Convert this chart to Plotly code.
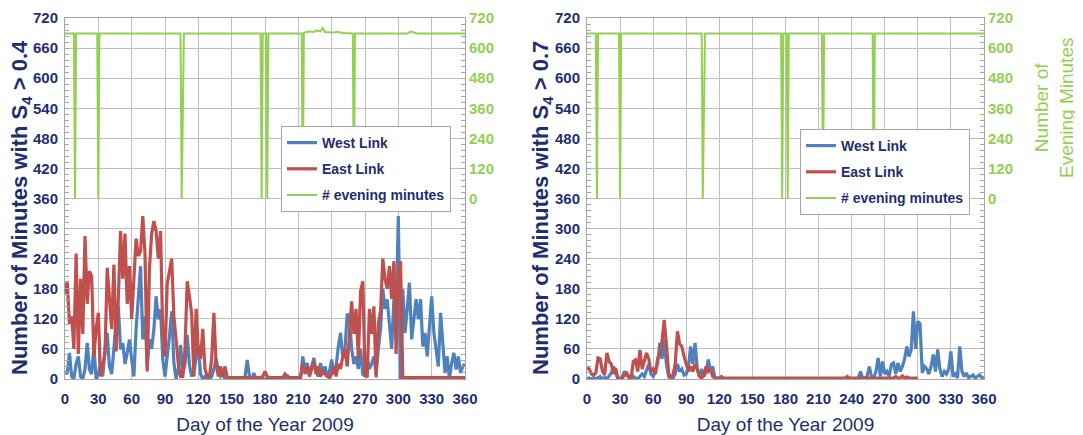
import plotly.graph_objects as go

# ---------------- data ----------------
days = list(range(0, 362, 2))  # sampled every 2 days, 0..360

west_04 = [15, 10, 52, 5, 0, 30, 45, 5, 0, 20, 72, 19, 10, 65, 0, 10, 32, 5, 60, 92,
           25, 10, 60, 119, 145, 59, 72, 30, 52, 79, 39, 5, 99, 160, 225, 79, 125, 25, 79, 60,
           99, 165, 119, 139, 39, 5, 39, 85, 135, 32, 0, 20, 68, 10, 30, 88, 28, 5, 15, 40,
           68, 10, 0, 5, 0, 0, 5, 20, 41, 15, 5, 10, 0, 0, 0, 0, 0, 0, 0, 0,
           0, 5, 38, 5, 0, 12, 0, 0, 0, 0, 0, 0, 0, 0, 0, 0, 0, 0, 0, 0,
           8, 0, 0, 0, 0, 0, 0, 45, 19, 32, 10, 25, 42, 15, 5, 32, 10, 25, 5, 15,
           39, 10, 25, 65, 92, 40, 60, 130, 125, 60, 30, 45, 20, 60, 10, 5, 40, 20, 30, 45,
           10, 60, 100, 180, 140, 159, 110, 60, 159, 120, 325, 0, 179, 92, 139, 192, 79, 125, 159, 119,
           159, 65, 92, 45, 105, 165, 92, 60, 25, 132, 60, 12, 45, 0, 32, 52, 19, 45, 12, 25,
           30]

east_04 = [170, 195, 110, 125, 60, 250, 50, 200, 90, 285, 150, 215, 205, 45, 100, 132, 5, 30, 50, 222,
           150, 100, 228, 55, 160, 295, 200, 290, 150, 225, 120, 200, 280, 245, 255, 325, 250, 15, 220, 290,
           315, 295, 240, 295, 90, 45, 190, 215, 240, 125, 80, 30, 5, 5, 60, 195, 165, 130, 5, 140,
           55, 40, 100, 20, 5, 5, 40, 132, 30, 5, 25, 5, 25, 3, 3, 3, 3, 3, 3, 3,
           3, 3, 3, 3, 3, 3, 3, 3, 3, 5, 15, 5, 3, 3, 3, 3, 3, 3, 3, 10,
           5, 3, 3, 3, 3, 3, 5, 30, 10, 25, 5, 20, 35, 10, 25, 5, 15, 10, 5, 3,
           10, 25, 5, 30, 20, 45, 60, 25, 100, 155, 90, 140, 40, 175, 195, 10, 3, 140, 90, 145,
           3, 110, 135, 240, 200, 180, 225, 160, 235, 50, 215, 235, 3, 3, 3, 3, 3, 3, 3, 3,
           3, 3, 3, 3, 3, 3, 3, 3, 3, 3, 3, 3, 3, 3, 3, 3, 3, 3, 3, 3,
           3]

west_07 = [0, 2, 0, 3, 0, 2, 5, 0, 3, 0, 5, 12, 25, 10, 0, 0, 5, 15, 8, 2,
           0, 5, 2, 0, 5, 10, 5, 20, 30, 10, 5, 15, 30, 72, 40, 79, 30, 5, 0, 2,
           10, 30, 15, 20, 8, 10, 25, 65, 30, 72, 20, 5, 20, 5, 15, 39, 15, 25, 2, 0,
           2, 5, 0, 0, 0, 0, 0, 0, 0, 0, 0, 0, 0, 0, 0, 0, 0, 0, 0, 0,
           0, 0, 0, 0, 0, 0, 0, 0, 0, 0, 0, 0, 0, 0, 0, 0, 0, 0, 0, 0,
           0, 0, 0, 0, 0, 0, 0, 0, 0, 0, 0, 0, 0, 0, 0, 0, 0, 0, 0, 0,
           0, 0, 0, 2, 15, 0, 3, 5, 25, 5, 2, 15, 42, 5, 35, 10, 15, 5, 29, 32,
           10, 32, 15, 25, 40, 65, 45, 59, 135, 60, 115, 110, 12, 25, 20, 10, 25, 49, 15, 59,
           20, 5, 15, 10, 20, 55, 5, 10, 2, 65, 15, 5, 12, 3, 5, 8, 2, 5, 8, 3,
           2]

east_07 = [22, 20, 10, 8, 12, 42, 40, 15, 8, 52, 35, 30, 10, 22, 2, 0, 2, 8, 12, 5,
           2, 35, 38, 15, 58, 20, 39, 52, 40, 15, 20, 10, 40, 52, 75, 118, 70, 12, 2, 9,
           30, 95, 70, 65, 45, 30, 15, 25, 15, 30, 20, 5, 2, 8, 25, 15, 20, 5, 3, 2,
           2, 2, 2, 2, 2, 2, 2, 2, 2, 2, 2, 2, 2, 2, 2, 2, 2, 2, 2, 2,
           2, 2, 2, 2, 2, 2, 2, 2, 2, 3, 2, 2, 2, 2, 2, 2, 2, 2, 2, 2,
           2, 2, 2, 2, 2, 2, 2, 2, 2, 2, 2, 2, 2, 2, 2, 2, 2, 2, 5, 2,
           2, 2, 2, 2, 2, 2, 2, 2, 2, 2, 2, 3, 2, 2, 2, 2, 2, 2, 2, 2,
           5, 2, 2, 6, 2, 4, 2, 2, 2, 2, 2]

green_left_days = [0, 8, 9, 10, 29, 30, 31, 104, 105, 107, 176, 177, 178, 181, 182, 183,
                   213, 214, 215, 220, 224, 226, 230, 232, 234, 240, 246, 250, 259, 260, 261,
                   308, 311, 314, 317, 365]
green_left_vals = [658, 658, 0, 658, 658, 0, 658, 658, 0, 658, 658, 0, 658, 658, 0, 658,
                   658, 0, 662, 666, 664, 670, 667, 680, 664, 662, 664, 660, 658, 0, 658,
                   658, 666, 663, 658, 658]

green_right_days = [0, 8, 9, 10, 29, 30, 31, 104, 105, 107, 176, 177, 178, 181, 182, 183,
                    213, 214, 215, 259, 260, 261, 365]
green_right_vals = [658, 658, 0, 658, 658, 0, 658, 658, 0, 658, 658, 0, 658, 658, 0, 658,
                    658, 0, 658, 658, 0, 658, 658]

x_ticks = list(range(0, 361, 30))
y_ticks = list(range(0, 721, 60))
y2_ticks = list(range(0, 721, 120))

# ---------------- style ----------------
NAVY = "#1F2E6E"
BLUE = "#4F81BD"
RED = "#C0504D"
GREEN = "#92D050"
GRID = "#BFBFBF"
FRAME = "#A6A6A6"
FONT = "Arial, Liberation Sans, sans-serif"

# the page body has an 8px margin, so the figure is drawn 8px in from the window edges
OFF = 8
W, H = 1083 - OFF, 435 - OFF

def px_x(p):
    return (p - OFF) / W

def px_y(p):
    return 1 - (p - OFF) / H

fig = go.Figure()

panels = [
    dict(west=west_04, east=east_04, gd=green_left_days, gv=green_left_vals,
         xa="x", ya="y", y2a="y2", leg="legend"),
    dict(west=west_07, east=east_07, gd=green_right_days, gv=green_right_vals,
         xa="x2", ya="y3", y2a="y4", leg="legend2"),
]

for p in panels:
    fig.add_trace(go.Scatter(x=days, y=p["west"], mode="lines", name="West Link",
                             line=dict(color=BLUE, width=3.2), xaxis=p["xa"], yaxis=p["ya"],
                             legend=p["leg"], legendgroup="w" + p["leg"]))
    fig.add_trace(go.Scatter(x=days[:len(p["east"])], y=p["east"], mode="lines", name="East Link",
                             line=dict(color=RED, width=3.2), xaxis=p["xa"], yaxis=p["ya"],
                             legend=p["leg"], legendgroup="e" + p["leg"]))
    fig.add_trace(go.Scatter(x=p["gd"], y=p["gv"], mode="lines", name="# evening minutes",
                             line=dict(color=GREEN, width=2), xaxis=p["xa"], yaxis=p["y2a"],
                             legend=p["leg"], legendgroup="g" + p["leg"]))

ydom = [px_y(379), px_y(18)]
xdom1 = [px_x(65), px_x(465)]
xdom2 = [px_x(587), px_x(984)]

def xaxis_cfg(dom, anchor):
    return dict(domain=dom, anchor=anchor, range=[0, 360], tickvals=x_ticks,
                automargin=False,
                showgrid=True, gridcolor=GRID, gridwidth=1, zeroline=False,
                showline=True, linecolor=FRAME, linewidth=1, mirror=True, ticks="",
                tickfont=dict(family=FONT, size=15, color=NAVY, weight="bold"),
                ticklabelstandoff=6,
                title=dict(text="Day of the Year 2009", standoff=12,
                           font=dict(family=FONT, size=19, color=NAVY)))

def yaxis_cfg(anchor):
    return dict(domain=ydom, anchor=anchor, range=[0, 720], tickvals=y_ticks,
                automargin=False,
                showgrid=True, gridcolor=GRID, gridwidth=1, zeroline=False,
                showline=True, linecolor=FRAME, linewidth=1, mirror=True,
                ticks="inside", ticklen=4, tickcolor=FRAME,
                minor=dict(dtick=12, tick0=0, ticks="inside", ticklen=4, tickcolor=FRAME,
                           showgrid=False),
                tickfont=dict(family=FONT, size=15, color=NAVY, weight="bold"),
                ticklabelstandoff=3)

def y2axis_cfg(anchor, overlay):
    return dict(anchor=anchor, overlaying=overlay, side="right", range=[-720, 720],
                automargin=False,
                tickvals=y2_ticks, showgrid=False, zeroline=False, showline=False,
                ticks="inside", ticklen=4, tickcolor=FRAME,
                minor=dict(dtick=24, tick0=0, ticks="inside", ticklen=4, tickcolor=FRAME,
                           showgrid=False),
                tickfont=dict(family=FONT, size=15, color=GREEN, weight="bold"),
                ticklabelstandoff=3)

legend_common = dict(bgcolor="white", bordercolor=FRAME, borderwidth=1,
                     font=dict(family=FONT, size=14, color=NAVY, weight="bold"),
                     xanchor="left", yanchor="top", tracegroupgap=5, itemwidth=30)

def rot_title(text, cx, cy, size, color, bold):
    return dict(text=text, xref="paper", yref="paper", x=px_x(cx), y=px_y(cy),
                xanchor="center", yanchor="middle", textangle=-90, showarrow=False,
                font=dict(family=FONT, size=size, color=color,
                          weight="bold" if bold else "normal"))

fig.update_layout(
    width=W, height=H, margin=dict(l=0, r=0, t=0, b=0, autoexpand=False),
    paper_bgcolor="white", plot_bgcolor="white",
    xaxis=xaxis_cfg(xdom1, "y"),
    yaxis=yaxis_cfg("x"),
    yaxis2=y2axis_cfg("x", "y"),
    xaxis2=xaxis_cfg(xdom2, "y3"),
    yaxis3=yaxis_cfg("x2"),
    yaxis4=y2axis_cfg("x2", "y3"),
    legend=dict(x=px_x(281), y=px_y(126), **legend_common),
    legend2=dict(x=px_x(800), y=px_y(129), **legend_common),
    annotations=[
        rot_title("Number of Minutes with S<sub>4</sub> > 0.4", 21, 208, 22, NAVY, True),
        rot_title("Number of Minutes with S<sub>4</sub> > 0.7", 542, 208, 22, NAVY, True),
        rot_title("Number of<br>Evening Minutes", 1054, 108, 19, GREEN, False),
    ],
)

fig.write_html("out.html")
